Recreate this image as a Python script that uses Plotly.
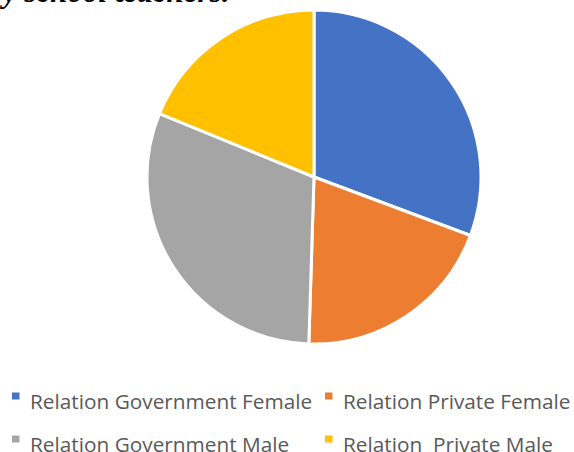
import plotly.graph_objects as go

labels = ["Relation Government Female", "Relation Private Female",
          "Relation Government Male", "Relation\u00a0 Private Male"]
values = [31, 20, 31, 19]
colors = ["#4472C4", "#ED7D31", "#A5A5A5", "#FFC000"]
title_text = "y school teachers."

W, H = 574, 452

def px(x):
    return x / W

def py(y):
    return 1 - y / H

fig = go.Figure()
fig.add_trace(go.Pie(
    labels=labels, values=values, sort=False, direction="clockwise", rotation=0,
    marker=dict(colors=colors, line=dict(color="white", width=3)),
    textinfo="none", hoverinfo="label+percent", showlegend=False,
    domain=dict(x=[px(146), px(482)], y=[py(344), py(10)]),
))

# custom legend (2 columns x 2 rows)
col_x = [12, 325]
row_y = [396, 439]
shapes = []
annotations = []
for i, (lab, col) in enumerate(zip(labels, colors)):
    cx = col_x[i % 2]
    ry = row_y[i // 2]
    shapes.append(dict(type="rect", xref="paper", yref="paper",
                       x0=px(cx), x1=px(cx + 7.5), y0=py(ry + 3.5), y1=py(ry - 3.5),
                       fillcolor=col, line=dict(width=0)))
    annotations.append(dict(text=lab, xref="paper", yref="paper",
                            x=px(cx + 16), y=py(ry + 5), xanchor="left", yanchor="middle",
                            showarrow=False,
                            font=dict(family="Open Sans", size=20.8, color="#595959")))

annotations.append(dict(text="<b><i>" + title_text + "</i></b>", xref="paper", yref="paper",
                        x=px(-3), y=py(11), xanchor="left", yanchor="bottom",
                        showarrow=False,
                        font=dict(family="Liberation Serif", size=31, color="black")))

fig.update_layout(
    width=W, height=H, margin=dict(l=0, r=0, t=0, b=0),
    paper_bgcolor="white", plot_bgcolor="white",
    shapes=shapes, annotations=annotations,
)
fig.write_html("out.html")
